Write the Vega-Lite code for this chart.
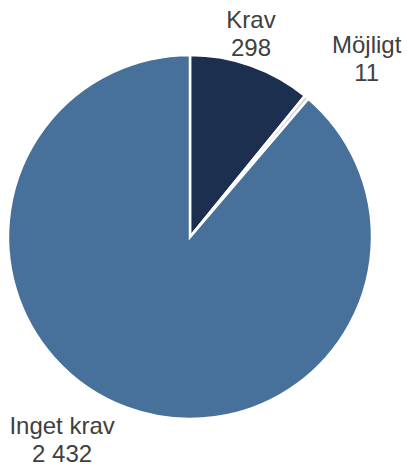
{
  "$schema": "https://vega.github.io/schema/vega-lite/v6.json",
  "width": 364,
  "height": 364,
  "autosize": "none",
  "padding": {"left": 8, "top": 55, "right": 36, "bottom": 48},
  "background": "white",
  "view": {"stroke": null},
  "data": {
    "values": [
      {"kategori": "Krav", "antal": 298, "etikett": "Krav\n298"},
      {"kategori": "Möjligt", "antal": 11, "etikett": "Möjligt\n11"},
      {"kategori": "Inget krav", "antal": 2432, "etikett": "Inget krav\n2 432"}
    ]
  },
  "encoding": {
    "theta": {"field": "antal", "type": "quantitative", "stack": true, "scale": {"range": [0.7083, 6.9915]}},
    "color": {
      "field": "kategori",
      "type": "nominal",
      "scale": {"domain": ["Krav", "Möjligt", "Inget krav"], "range": ["#1c2f4e", "#d4d4d4", "#47719a"]},
      "legend": null
    }
  },
  "layer": [
    {"mark": {"type": "arc", "radius": 182, "stroke": "white", "strokeWidth": 2.5}},
    {
      "mark": {"type": "text", "radius": 215, "dx": -11, "dy": -13, "font": "Liberation Sans", "fontSize": 24, "lineHeight": 28, "lineBreak": "\n", "baseline": "middle", "align": "center"},
      "encoding": {
        "fill": {"value": "#404040"},
        "text": {"condition": {"test": "datum.kategori === 'Krav'", "field": "etikett"}, "value": ""}
      }
    },
    {
      "mark": {"type": "text", "radius": 232, "dx": 28, "dy": -13, "font": "Liberation Sans", "fontSize": 24, "lineHeight": 28, "lineBreak": "\n", "baseline": "middle", "align": "center"},
      "encoding": {
        "fill": {"value": "#404040"},
        "text": {"condition": {"test": "datum.kategori === 'Möjligt'", "field": "etikett"}, "value": ""}
      }
    },
    {
      "mark": {"type": "text", "radius": 216, "dx": -53, "dy": -13, "font": "Liberation Sans", "fontSize": 24, "lineHeight": 28, "lineBreak": "\n", "baseline": "middle", "align": "center"},
      "encoding": {
        "fill": {"value": "#404040"},
        "text": {"condition": {"test": "datum.kategori === 'Inget krav'", "field": "etikett"}, "value": ""}
      }
    }
  ]
}
